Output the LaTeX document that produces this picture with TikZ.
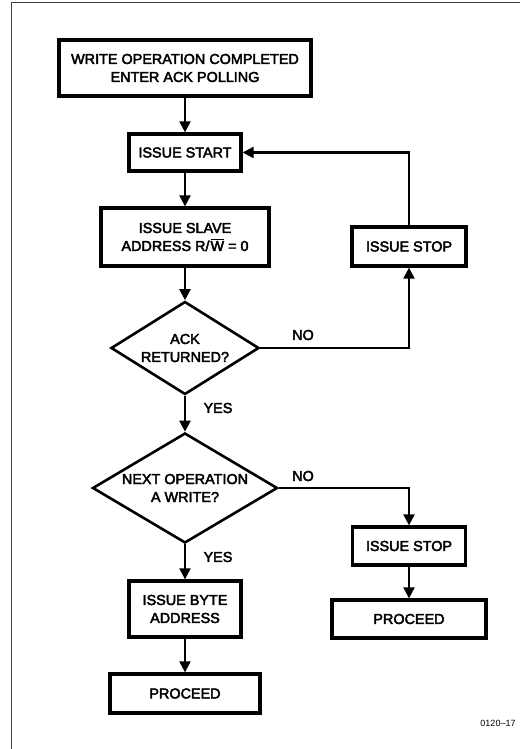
\documentclass[tikz,border=0pt]{standalone}
\usepackage{fontspec}
\setmainfont{Liberation Sans}
\newfontfamily\heavyfam{Liberation Sans}[FakeBold=3]
\usetikzlibrary{shapes.geometric,arrows.meta}
\begin{document}
\begin{tikzpicture}[x=1pt,y=-1pt,
  font=\heavyfam\fontsize{14.4}{18}\selectfont,
  box/.style={draw,line width=3.3pt,align=center,inner sep=0pt},
  dec/.style={draw,diamond,line width=2.6pt,align=center,inner sep=0pt,aspect=1.6},
  conn/.style={line width=2.2pt,-{Triangle[width=11pt,length=11pt]}},
  lbl/.style={inner sep=0pt}]
\useasboundingbox (0,0) rectangle (528,749);
\draw[line width=1pt,black!75] (11,749) -- (11,3) -- (520,3);
\node[box,minimum width=252pt,minimum height=56pt] (b1) at (185,68) {WRITE OPERATION COMPLETED\\ENTER ACK POLLING};
\node[box,minimum width=112pt,minimum height=37pt] (b2) at (185,152.5) {ISSUE START};
\node[box,minimum width=168pt,minimum height=58pt] (b3) at (185,237) {ISSUE SLAVE\\ADDRESS R/\kern1pt$\overline{\hbox{W}}$ = 0};
\node[box,minimum width=114pt,minimum height=39pt] (s1) at (409,246.5) {ISSUE STOP};
\node[dec,minimum width=148pt,minimum height=93pt] (d1) at (185,348) {ACK\\RETURNED?};
\node[dec,minimum width=185pt,minimum height=110pt] (d2) at (185,488) {NEXT OPERATION\\A WRITE?};
\node[box,minimum width=113pt,minimum height=38pt] (s2) at (409,546) {ISSUE STOP};
\node[box,minimum width=154pt,minimum height=38pt] (p2) at (409,619) {PROCEED};
\node[box,minimum width=112pt,minimum height=56pt] (b4) at (185,609) {ISSUE BYTE\\ADDRESS};
\node[box,minimum width=150pt,minimum height=39pt] (p1) at (185,693.5) {PROCEED};
\node[lbl] (no1) at (303,335) {NO};
\node[lbl] (yes1) at (218,408) {YES};
\node[lbl] (no2) at (303,476) {NO};
\node[lbl] (yes2) at (218,557) {YES};
\node[lbl,font=\fontsize{9}{10}\selectfont] (fig) at (498,723) {0120\textendash 17};
\draw[conn] (b1) -- (b2);
\draw[conn] (b2) -- (b3);
\draw[conn] (b3) -- (d1);
\draw[conn] (d1.east) -| (s1.south);
\draw[conn] (s1.north) |- (b2.east);
\draw[conn] (d1.south) -- (d2.north);
\draw[conn] (d2.east) -| (s2.north);
\draw[conn] (s2) -- (p2);
\draw[conn] (d2.south) -- (b4.north);
\draw[conn] (b4) -- (p1);
\end{tikzpicture}
\end{document}
